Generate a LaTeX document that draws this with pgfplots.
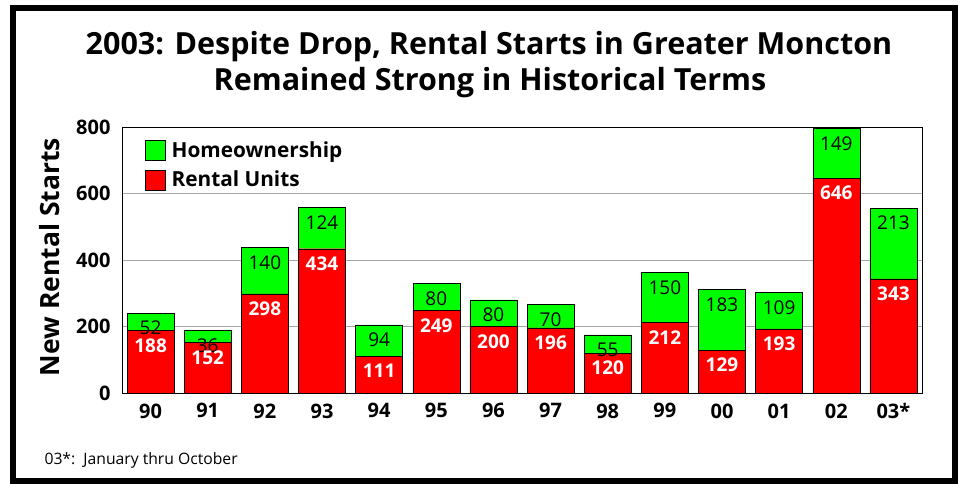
\documentclass[border=0pt]{standalone}
\usepackage{pgfplots}
\pgfplotsset{compat=1.18}
\usepackage{fontspec}
\setmainfont{Open Sans}
\definecolor{barred}{RGB}{255,0,0}
\definecolor{bargreen}{RGB}{0,255,0}
\begin{document}
\begin{tikzpicture}
\useasboundingbox (0,0) rectangle (960pt,483pt);
\draw[line width=6pt] (13pt,2pt) rectangle (955pt,475pt);
\node[font=\bfseries\fontsize{30.5}{32}\selectfont] at (489pt,436pt) {2003: Despite Drop, Rental Starts in Greater Moncton};
\node[font=\bfseries\fontsize{30.5}{32}\selectfont] at (490pt,400pt) {Remained Strong in Historical Terms};
\node[rotate=90, font=\bfseries\fontsize{26.5}{26.5}\selectfont] at (50pt,226pt) {New Rental Starts};
\node[anchor=west, font=\fontsize{15.7}{16}\selectfont] at (41pt,23pt) {03*:\ \ January thru October};
\begin{axis}[at={(122pt,90pt)}, anchor=south west, scale only axis,
  width=800pt, height=266pt,
  ybar stacked, bar width=47pt,
  ymin=0, ymax=800, xmin=-0.5, xmax=13.5,
  ytick={0,200,...,800}, xtick={0,...,13},
  xticklabels={90,91,92,93,94,95,96,97,98,99,00,01,02,03*},
  ymajorgrids, grid style={gray!70, line width=0.8pt},
  major tick length=0pt,
  axis line style={black, line width=1pt},
  ticklabel style={font=\bfseries\fontsize{20}{20}\selectfont},
  /pgf/number format/assume math mode=true,
  yticklabel style={xshift=-8pt},
  xticklabel style={yshift=-7pt},
  point meta=explicit symbolic,
  visualization depends on={rawy \as \segh},
  legend style={at={(0.025,0.96)}, anchor=north west, draw=none, fill=none,
    font=\bfseries\fontsize{20.8}{20.8}\selectfont, row sep=8pt,
    nodes={inner xsep=6pt}},
  legend cell align=left,
  reverse legend,
  legend image code/.code={\draw[#1, draw=black] (0pt,-10pt) rectangle (20pt,10pt);},
]
\addplot[fill=barred, draw=black, nodes near coords,
  every node near coord/.append style={anchor=center, yshift={\segh*0.16625pt-15pt}, text=white,
    font=\bfseries\fontsize{19}{19}\selectfont}]
  coordinates {(0,188)[188] (1,152)[152] (2,298)[298] (3,434)[434] (4,111)[111]
    (5,249)[249] (6,200)[200] (7,196)[196] (8,120)[120] (9,212)[212]
    (10,129)[129] (11,193)[193] (12,646)[646] (13,343)[343]};
\addplot[fill=bargreen, draw=black, nodes near coords,
  every node near coord/.append style={anchor=center, yshift={\segh*0.16625pt-15pt}, text=black,
    font=\fontsize{19}{19}\selectfont}]
  coordinates {(0,52)[52] (1,36)[36] (2,140)[140] (3,124)[124] (4,94)[94]
    (5,80)[80] (6,80)[80] (7,70)[70] (8,55)[55] (9,150)[150]
    (10,183)[183] (11,109)[109] (12,149)[149] (13,213)[213]};
\legend{Rental Units, Homeownership}
\end{axis}
\end{tikzpicture}
\end{document}
